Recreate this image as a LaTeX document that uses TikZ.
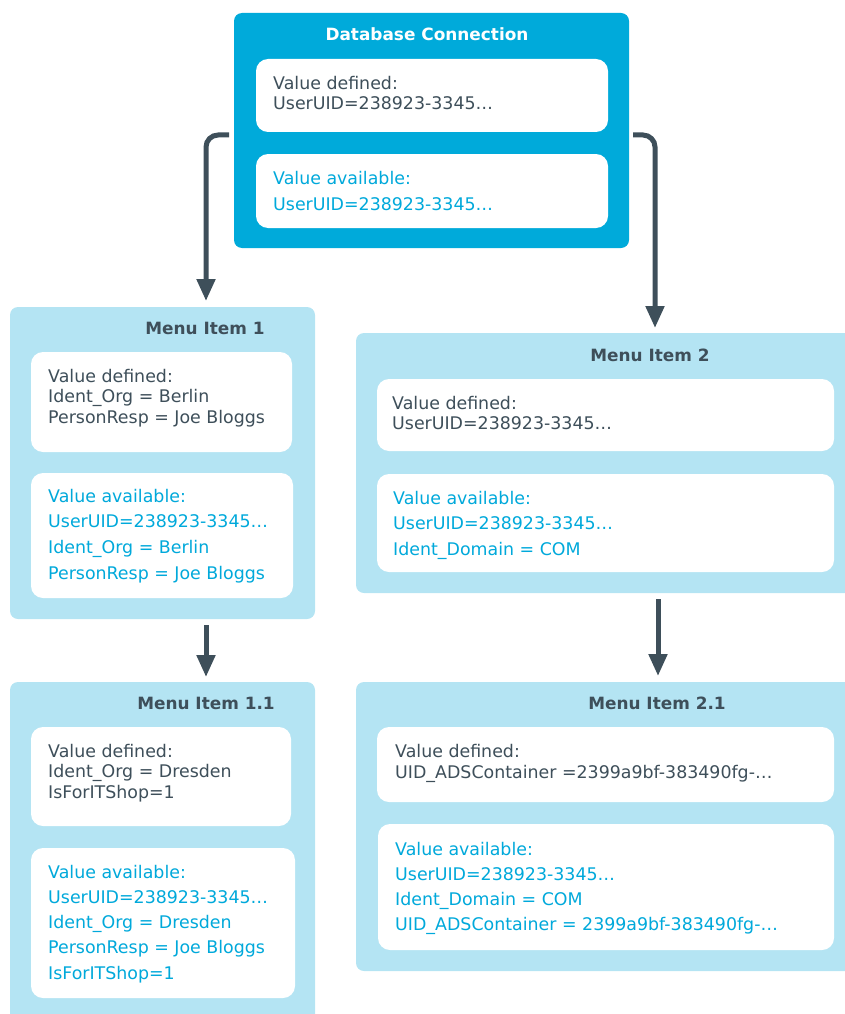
\documentclass[tikz,border=0pt]{standalone}
\usepackage{fontspec}
\setmainfont{DejaVu Sans}
\usetikzlibrary{arrows.meta,calc}
\definecolor{dbblue}{HTML}{00AADA}
\definecolor{lightbox}{HTML}{B4E4F3}
\definecolor{darktext}{HTML}{3E4F5A}
\definecolor{cyantext}{HTML}{00A9DB}
\newcommand\txtblock[6]{\foreach \lineText [count=\idx from 0] in {#6} {\node[#5] (#1-\idx) at (#2,{#3+\idx*#4}) {\lineText};}}
\begin{document}
\begin{tikzpicture}[x=1pt,y=-1pt,
  outerbox/.style={fill=lightbox, rounded corners=8pt, inner sep=0pt, outer sep=0pt, anchor=north west},
  innerbox/.style={fill=white, rounded corners=12pt, inner sep=0pt, outer sep=0pt, anchor=north west},
  txt/.style={anchor=base west, inner sep=0pt, font=\fontsize{17.4}{20}\selectfont, text=darktext},
  avail/.style={txt, text=cyantext},
  ttl/.style={inner sep=0pt, font=\fontsize{16.9}{20}\selectfont\bfseries, text=darktext},
  arr/.style={draw=darktext, line width=5pt, rounded corners=12pt, -{Triangle[width=18pt,length=22pt]}}]
\useasboundingbox (0,0) rectangle (844,1014);
% Database connection
\node[outerbox, fill=dbblue, minimum width=395pt, minimum height=235pt] (db) at (234,13) {};
\node[innerbox, minimum width=352pt, minimum height=73pt] (dbd) at (256,59) {};
\node[innerbox, minimum width=352pt, minimum height=74pt] (dba) at (256,154) {};
\node[ttl, text=white] (dbt) at (427,34) {Database Connection};
\txtblock{dbdt}{273}{90}{20}{txt}{Value defined:,UserUID=238923-3345…}
\txtblock{dbat}{273}{184}{26}{avail}{Value available:,UserUID=238923-3345…}
% Menu Item 1
\node[outerbox, minimum width=305pt, minimum height=312pt] (m1) at (10,307) {};
\node[innerbox, minimum width=261pt, minimum height=100pt] (m1d) at (31,352) {};
\node[innerbox, minimum width=262pt, minimum height=125pt] (m1a) at (31,473) {};
\node[ttl] (m1t) at (205,328) {Menu Item 1};
\txtblock{m1dt}{48}{382}{20.5}{txt}{Value defined:,Ident\_Org = Berlin,PersonResp = Joe Bloggs}
\txtblock{m1at}{48}{502}{25.7}{avail}{Value available:,UserUID=238923-3345…,Ident\_Org = Berlin,PersonResp = Joe Bloggs}
% Menu Item 2
\node[outerbox, minimum width=510pt, minimum height=260pt] (m2) at (356,333) {};
\node[innerbox, minimum width=457pt, minimum height=72pt] (m2d) at (377,379) {};
\node[innerbox, minimum width=457pt, minimum height=98pt] (m2a) at (377,474) {};
\node[ttl] (m2t) at (650,355) {Menu Item 2};
\txtblock{m2dt}{392}{409}{20}{txt}{Value defined:,UserUID=238923-3345…}
\txtblock{m2at}{393}{504}{25.5}{avail}{Value available:,UserUID=238923-3345…,Ident\_Domain = COM}
% Menu Item 1.1
\node[outerbox, minimum width=305pt, minimum height=350pt] (m11) at (10,682) {};
\node[innerbox, minimum width=260pt, minimum height=99pt] (m11d) at (31,727) {};
\node[innerbox, minimum width=264pt, minimum height=150pt] (m11a) at (31,848) {};
\node[ttl] (m11t) at (206,703) {Menu Item 1.1};
\txtblock{m11dt}{48}{757}{20.5}{txt}{Value defined:,Ident\_Org = Dresden,IsForITShop=1}
\txtblock{m11at}{48}{878}{25.3}{avail}{Value available:,UserUID=238923-3345…,Ident\_Org = Dresden,PersonResp = Joe Bloggs,IsForITShop=1}
% Menu Item 2.1
\node[outerbox, minimum width=510pt, minimum height=289pt] (m21) at (356,682) {};
\node[innerbox, minimum width=457pt, minimum height=75pt] (m21d) at (377,727) {};
\node[innerbox, minimum width=456pt, minimum height=126pt] (m21a) at (378,824) {};
\node[ttl] (m21t) at (657,703) {Menu Item 2.1};
\txtblock{m21dt}{395}{757}{21}{txt}{Value defined:,UID\_ADSContainer =2399a9bf-383490fg-…}
\txtblock{m21at}{395}{855}{25.3}{avail}{Value available:,UserUID=238923-3345…,Ident\_Domain = COM,UID\_ADSContainer = 2399a9bf-383490fg-…}
% connectors
\coordinate (t1) at (206,301);
\coordinate (t2) at (655,328);
\coordinate (x4) at (658,0);
\draw[arr] ($(db.west)+(-5,4.5)$) -| (t1);
\draw[arr] ($(db.east)+(4,4.5)$) -| (t2);
\draw[arr, shorten <=6pt, shorten >=5pt] (m1.south -| t1) -- (m11.north -| t1);
\draw[arr, shorten <=6pt, shorten >=6pt] (m2.south -| x4) -- (m21.north -| x4);
\end{tikzpicture}
\end{document}
